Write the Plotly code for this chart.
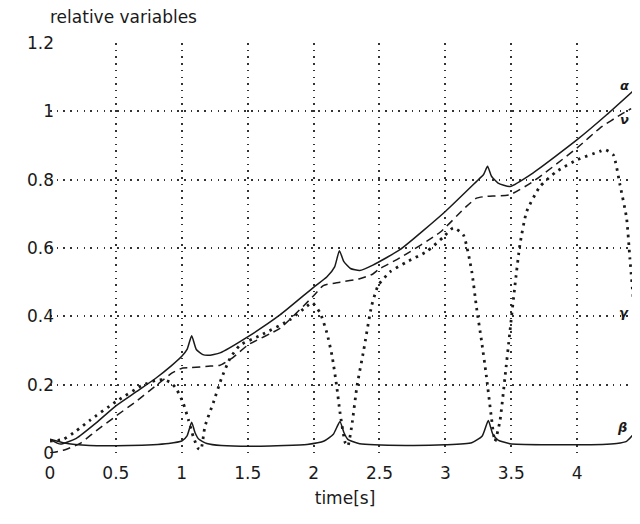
import plotly.graph_objects as go

# alpha (solid)
alpha_t = [0, 0.08, 0.2, 0.35, 0.5, 0.65, 0.8, 0.92, 1.0, 1.04, 1.075, 1.11, 1.16, 1.2, 1.29, 1.5, 1.745, 2.0, 2.1, 2.16, 2.196, 2.23, 2.28, 2.35, 2.45, 2.655, 3.0, 3.237, 3.29, 3.32, 3.35, 3.4, 3.49, 3.667, 4.0, 4.224, 4.42]
alpha_v = [0.04, 0.026, 0.043, 0.088, 0.138, 0.178, 0.218, 0.255, 0.283, 0.303, 0.343, 0.303, 0.288, 0.286, 0.293, 0.34, 0.404, 0.485, 0.515, 0.545, 0.592, 0.56, 0.54, 0.534, 0.55, 0.595, 0.707, 0.795, 0.815, 0.839, 0.81, 0.79, 0.78, 0.82, 0.917, 0.99, 1.058]

# nu (dashed)
nu_t = [0, 0.1, 0.228, 0.35, 0.5, 0.65, 0.8, 0.93, 1.007, 1.075, 1.2, 1.29, 1.39, 1.505, 1.745, 2.0, 2.074, 2.2, 2.35, 2.45, 2.5, 2.655, 2.96, 3.16, 3.237, 3.31, 3.49, 3.667, 4.0, 4.173, 4.337, 4.41]
nu_v = [0.0, 0.008, 0.028, 0.065, 0.108, 0.15, 0.196, 0.235, 0.249, 0.25, 0.254, 0.257, 0.28, 0.317, 0.365, 0.46, 0.49, 0.50, 0.51, 0.524, 0.539, 0.571, 0.646, 0.722, 0.746, 0.751, 0.756, 0.795, 0.893, 0.951, 0.992, 1.008]

# gamma (dotted)
gamma_t = [0, 0.1, 0.2, 0.3, 0.5, 0.7, 0.8, 0.86, 0.92, 0.96, 1.01, 1.05, 1.087, 1.125, 1.145, 1.176, 1.24, 1.30, 1.366, 1.44, 1.6, 1.82, 1.95, 1.99, 2.05, 2.1, 2.14, 2.175, 2.2, 2.24, 2.26, 2.29, 2.33, 2.38, 2.44, 2.49, 2.58, 2.71, 2.86, 2.99, 3.06, 3.136, 3.2, 3.237, 3.275, 3.31, 3.35, 3.376, 3.414, 3.452, 3.49, 3.528, 3.566, 3.617, 3.718, 3.844, 4.0, 4.173, 4.211, 4.274, 4.325, 4.375, 4.40, 4.426]
gamma_v = [0.035, 0.04, 0.065, 0.095, 0.15, 0.198, 0.212, 0.215, 0.205, 0.187, 0.147, 0.098, 0.048, 0.013, 0.01, 0.078, 0.148, 0.217, 0.277, 0.315, 0.345, 0.39, 0.43, 0.44, 0.41, 0.353, 0.285, 0.197, 0.12, 0.03, 0.02, 0.08, 0.197, 0.30, 0.43, 0.49, 0.53, 0.56, 0.59, 0.634, 0.659, 0.639, 0.532, 0.424, 0.327, 0.229, 0.102, 0.034, 0.093, 0.22, 0.356, 0.49, 0.61, 0.707, 0.78, 0.824, 0.858, 0.883, 0.888, 0.873, 0.785, 0.688, 0.571, 0.45]

# beta (solid)
beta_t = [0, 0.1, 0.3, 0.6, 0.9, 1.0, 1.04, 1.075, 1.1, 1.13, 1.19, 1.3, 1.6, 1.95, 2.08, 2.15, 2.2, 2.23, 2.26, 2.35, 2.7, 3.0, 3.2, 3.28, 3.326, 3.36, 3.4, 3.49, 4.0, 4.3, 4.375, 4.426]
beta_v = [0.04, 0.03, 0.022, 0.022, 0.028, 0.035, 0.05, 0.09, 0.06, 0.04, 0.028, 0.022, 0.02, 0.025, 0.035, 0.055, 0.092, 0.06, 0.04, 0.027, 0.022, 0.024, 0.03, 0.05, 0.095, 0.055, 0.038, 0.027, 0.024, 0.028, 0.034, 0.054]

x_ticks = [0, 0.5, 1, 1.5, 2, 2.5, 3, 3.5, 4]
x_labels = ["0", "0.5", "1", "1.5", "2", "2.5", "3", "3.5", "4"]
y_ticks = [0, 0.2, 0.4, 0.6, 0.8, 1.0, 1.2]
y_labels = ["0", "0.2", "0.4", "0.6", "0.8", "1", "1.2"]

INK = "#1a1a1a"
FONT = "DejaVu Sans"

fig = go.Figure()
fig.add_trace(go.Scatter(x=alpha_t, y=alpha_v, mode="lines", cliponaxis=False,
                         line=dict(color=INK, width=1.5, shape="spline", smoothing=0.5)))
fig.add_trace(go.Scatter(x=nu_t, y=nu_v, mode="lines", cliponaxis=False,
                         line=dict(color=INK, width=1.5, dash="8px,5px", shape="spline", smoothing=0.5)))
fig.add_trace(go.Scatter(x=gamma_t, y=gamma_v, mode="lines", cliponaxis=False,
                         line=dict(color=INK, width=2.8, dash="2.5px,5px", shape="spline", smoothing=0.5)))
fig.add_trace(go.Scatter(x=beta_t, y=beta_v, mode="lines", cliponaxis=False,
                         line=dict(color=INK, width=1.5, shape="spline", smoothing=0.5)))

labels = [("α", 1.077), ("ν", 0.975), ("γ", 0.41)]
for txt, ly in labels:
    fig.add_annotation(x=1, xref="paper", xanchor="right", y=ly, text="<b><i>" + txt + "</i></b>",
                       showarrow=False, xshift=-9, font=dict(family=FONT, size=13, color=INK))
fig.add_annotation(x=4.34, y=0.075, text="<b><i>β</i></b>", showarrow=False,
                   font=dict(family=FONT, size=13, color=INK))

fig.add_annotation(x=0, y=1, xref="paper", yref="paper", xanchor="left", yanchor="middle",
                   yshift=26, xshift=-2, text="relative variables", showarrow=False,
                   font=dict(family=FONT, size=17, color=INK))

grid = dict(showgrid=True, gridcolor="#333", gridwidth=1.5, griddash="1.5px,5.2px",
            zeroline=False, showline=False, ticks="",
            tickfont=dict(family=FONT, size=17, color=INK))

fig.update_xaxes(range=[0, 4.477], tickvals=x_ticks, ticktext=x_labels, ticklabelstandoff=8,
                 title=dict(text="time[s]", font=dict(family=FONT, size=17, color=INK), standoff=13),
                 **grid)
fig.update_yaxes(range=[0, 1.2], tickvals=y_ticks, ticktext=y_labels, ticklabelstandoff=-5, **grid)

fig.update_layout(width=632, height=500, margin=dict(l=42, r=0, t=35, b=55, autoexpand=False),
                  plot_bgcolor="white", paper_bgcolor="white", showlegend=False)

fig.write_html("out.html")
